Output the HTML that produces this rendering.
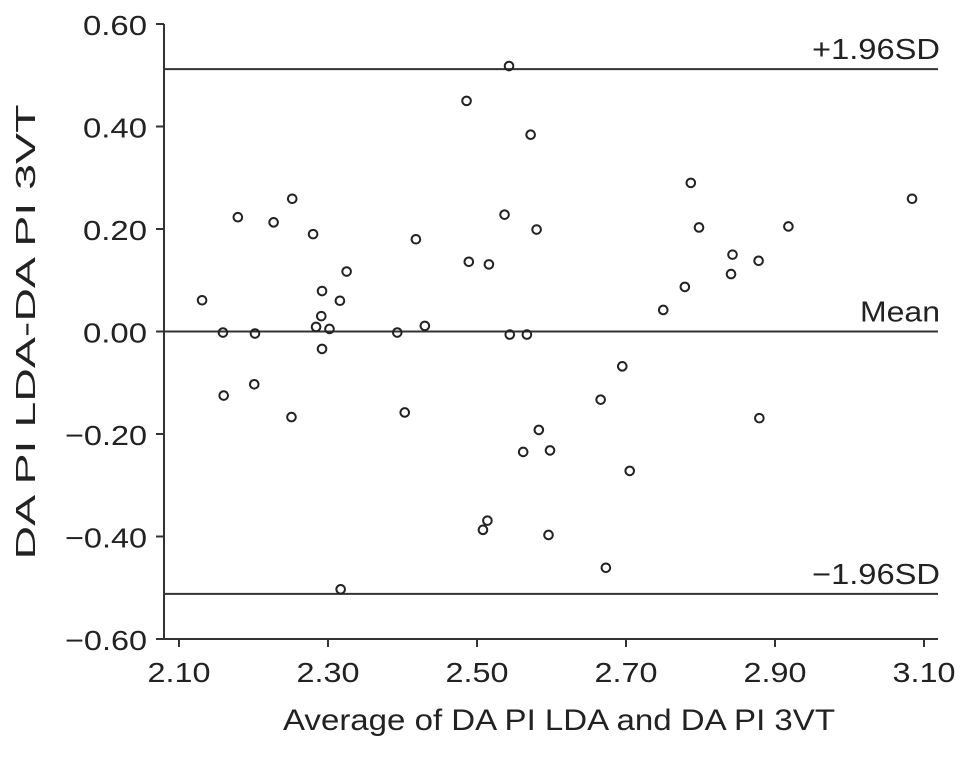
<!DOCTYPE html>
<html><head><meta charset="utf-8"><style>
html,body{margin:0;padding:0;background:#fff;}
svg text{font-family:"Liberation Sans",Arial,sans-serif;fill:#222;}
</style></head><body>
<svg id="chart" width="969" height="752" viewBox="0 0 969 752" xmlns="http://www.w3.org/2000/svg">
<g id="axes"></g><g id="refs"></g><g id="pts"></g>
<text transform="translate(35,332) rotate(-90)" text-anchor="middle" font-size="28" textLength="455" lengthAdjust="spacingAndGlyphs">DA PI LDA-DA PI 3VT</text>
<text x="559" y="730" text-anchor="middle" font-size="30" textLength="552" lengthAdjust="spacingAndGlyphs">Average of DA PI LDA and DA PI 3VT</text>
</svg>
<script>
const xTicks=[2.10,2.30,2.50,2.70,2.90,3.10];
const xTickLabels=["2.10","2.30","2.50","2.70","2.90","3.10"];
const yTicks=[0.60,0.40,0.20,0.00,-0.20,-0.40,-0.60];
const yTickLabels=["0.60","0.40","0.20","0.00","\u22120.20","\u22120.40","\u22120.60"];
const refValues=[0.512,0.0,-0.512];
const refLabels=["+1.96SD","Mean","\u22121.96SD"];
const avgValues=[2.131,2.159,2.160,2.179,2.202,2.201,2.227,2.252,2.251,2.280,2.291,2.292,2.284,2.302,2.292,2.316,2.325,2.393,2.403,2.418,2.430,
2.543,2.486,2.572,2.537,2.580,2.489,2.516,2.317,
2.750,2.544,2.567,2.695,2.666,2.583,2.562,2.598,2.705,2.514,2.508,2.596,2.673,
2.787,3.084,2.798,2.918,2.843,2.878,2.841,2.779,2.879];
const diffValues=[0.061,-0.002,-0.125,0.223,-0.004,-0.103,0.213,0.259,-0.167,0.190,0.030,0.079,0.009,0.005,-0.034,0.060,0.117,-0.002,-0.158,0.180,0.011,
0.518,0.450,0.384,0.228,0.199,0.136,0.131,-0.503,
0.042,-0.006,-0.006,-0.068,-0.133,-0.192,-0.235,-0.232,-0.272,-0.369,-0.387,-0.397,-0.461,
0.290,0.259,0.203,0.205,0.150,0.138,0.112,0.087,-0.169];

const NS="http://www.w3.org/2000/svg";
const X0=164,X1=938,Y0=24,Y1=639;
function xs(v){return 179+(v-2.1)*745;}
function ys(v){return 331.5-v*512.5;}
function mk(tag,attrs,parent){const e=document.createElementNS(NS,tag);for(const k in attrs)e.setAttribute(k,attrs[k]);parent.appendChild(e);return e;}
const axes=document.getElementById('axes'),refs=document.getElementById('refs'),pts=document.getElementById('pts');
let l=mk('line',{x1:X0,y1:Y0,x2:X0,y2:Y1+1,stroke:'#333','stroke-width':2},axes);


l=mk('line',{x1:X0-1,y1:Y1,x2:X1,y2:Y1,stroke:'#333','stroke-width':2},axes);


yTicks.forEach((v,i)=>{
  const t=mk('line',{x1:X0-8,y1:ys(v),x2:X0,y2:ys(v),stroke:'#333','stroke-width':2},axes);
  
  
  const lab=yTickLabels[i];
  const tx=mk('text',{x:147,y:ys(v)+11,'text-anchor':'end','font-size':28,textLength:(lab.length>4?82:64),lengthAdjust:'spacingAndGlyphs'},axes);
  tx.textContent=lab;
  
  
});
xTicks.forEach((v,i)=>{
  const t=mk('line',{x1:xs(v),y1:Y1,x2:xs(v),y2:Y1+8,stroke:'#333','stroke-width':2},axes);
  
  
  const tx=mk('text',{x:xs(v),y:682,'text-anchor':'middle','font-size':28,textLength:63,lengthAdjust:'spacingAndGlyphs'},axes);
  tx.textContent=xTickLabels[i];
  
  
});
refValues.forEach((v,i)=>{
  const r=mk('line',{x1:X0,y1:ys(v),x2:X1,y2:ys(v),stroke:'#333','stroke-width':2},refs);
  
  
  const lab=refLabels[i];
  const tx=mk('text',{x:940,y:ys(v)-10,'text-anchor':'end','font-size':29,textLength:(lab.length>4?128:80),lengthAdjust:'spacingAndGlyphs'},refs);
  tx.textContent=lab;
  
  
});
avgValues.forEach((v,i)=>{
  const c=mk('circle',{cx:xs(v),cy:ys(diffValues[i]),r:4.3,fill:'none',stroke:'#222','stroke-width':2},pts);
  
  
});
</script>
</body></html>
